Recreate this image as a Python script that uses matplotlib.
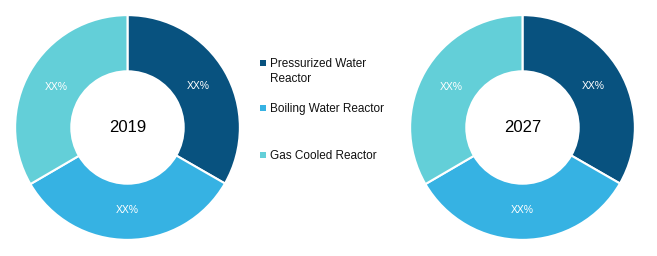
import matplotlib
matplotlib.use("Agg")
import matplotlib.pyplot as plt
from matplotlib.patches import Rectangle

plt.rcParams['font.family'] = ['Liberation Sans', 'DejaVu Sans']

# data
segments = ["Pressurized Water\nReactor", "Boiling Water Reactor", "Gas Cooled Reactor"]
share_2019 = [33.3, 33.3, 33.4]
share_2027 = [33.3, 33.3, 33.4]
years = ["2019", "2027"]
colors = ["#08527F", "#36B2E3", "#63CFD8"]

W, H = 657, 256
fig = plt.figure(figsize=(W / 100, H / 100), dpi=100)

def donut(rect, values, year):
    ax = fig.add_axes(rect)
    ax.pie(values, colors=colors, startangle=90, counterclock=False,
           autopct=lambda p: "XX%", pctdistance=0.73,
           wedgeprops=dict(width=0.5, edgecolor="white", linewidth=1.5),
           textprops=dict(color="white", fontsize=7.5))
    ax.text(0, 0, year, ha="center", va="center", fontsize=12, color="black")
    ax.set_xlim(-1.01, 1.01)
    ax.set_ylim(-1.01, 1.01)
    ax.set_aspect("equal")
    ax.axis("off")

donut([14 / W, 15 / H, 227 / W, 227 / H], share_2019, years[0])
donut([409 / W, 15 / H, 227 / W, 227 / H], share_2027, years[1])

# legend, drawn by hand so the two-line entry keeps its marker on the first line
legend_y = [63, 108, 155]
for label, c, yp in zip(segments, colors, legend_y):
    fig.add_artist(Rectangle((260 / W, (H - yp - 3) / H), 6 / W, 6 / H,
                             transform=fig.transFigure, facecolor=c, edgecolor="none"))
    fig.text(270 / W, (H - yp + 5) / H, label, fontsize=8.5, va="top", ha="left",
             linespacing=1.3, color="#111111")

fig.savefig("out.png", dpi=100)
